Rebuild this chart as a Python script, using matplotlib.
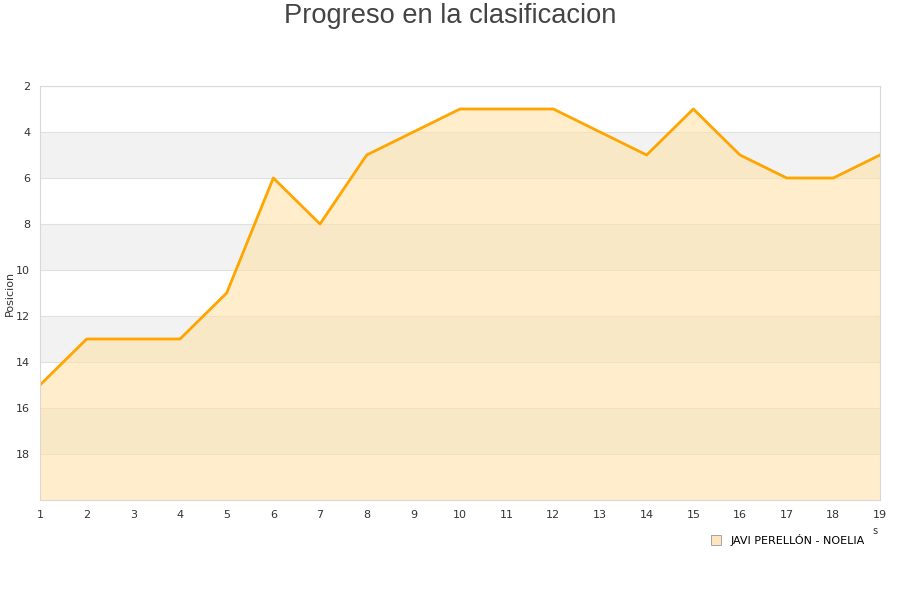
import matplotlib
matplotlib.use("Agg")
import matplotlib.pyplot as plt
from matplotlib.lines import Line2D

jornadas = list(range(1, 20))
posiciones = [15, 13, 13, 13, 11, 6, 8, 5, 4, 3, 3, 3, 4, 5, 3, 5, 6, 6, 5]
y_ticks = [2, 4, 6, 8, 10, 12, 14, 16, 18]
serie = "JAVI PERELLÓN - NOELIA"

fig = plt.figure(figsize=(9, 6), dpi=100)
ax = fig.add_axes([40/900, 1-500/600, 840/900, 414/600])

ax.set_xlim(1, 19)
ax.set_ylim(20, 2)

# alternating bands
for lo in [4, 8, 12, 16]:
    ax.axhspan(lo, lo + 2, color="#f2f2f2", zorder=0, lw=0)
for t in y_ticks:
    ax.axhline(t, color="#e0e0e0", lw=0.8, zorder=0.5)

ax.fill_between(jornadas, posiciones, 20, color="#ffe2aa", alpha=0.6, lw=0, zorder=1)
ax.plot(jornadas, posiciones, color="#ffa500", lw=2, zorder=2)

ax.set_xticks(jornadas)
ax.set_yticks(y_ticks)
ax.tick_params(length=0, labelsize=8, colors="#333333", pad=7)
for s in ax.spines.values():
    s.set_color("#d8d8d8")
    s.set_linewidth(0.8)

ax.set_ylabel("Posicion", fontsize=8, color="#333333")
ax.yaxis.set_label_coords(-25/840, 0.5)
fig.text(0.5, 1-16/600, "Progreso en la clasificacion", ha="center", va="center",
         fontsize=19.6, color="#444444", family=["Liberation Sans", "DejaVu Sans"])
fig.text(875/900, 1-531/600, "s", ha="center", va="center", fontsize=7, color="#333333")

handle = Line2D([], [], marker="s", linestyle="none", markersize=7,
                markerfacecolor="#fde6bf", markeredgecolor="#999999", markeredgewidth=0.6)
fig.legend([handle], [serie], loc="center", bbox_to_anchor=(785/900, 1-540/600),
           frameon=False, fontsize=8, handletextpad=0.3)

fig.savefig("out.png", dpi=100)
